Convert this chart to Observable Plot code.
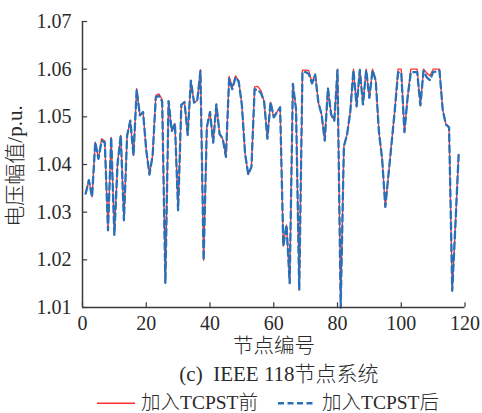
<!DOCTYPE html>
<html><head><meta charset="utf-8">
<script src="https://cdn.jsdelivr.net/npm/d3@7"></script>
<script src="https://cdn.jsdelivr.net/npm/@observablehq/plot@0.6"></script>
<style>
body{margin:0;background:#fff;}
#wrap{position:relative;width:482px;height:413px;font-family:"Liberation Serif","Noto Sans CJK SC",serif;color:#2a2a2a;font-weight:300;overflow:hidden;}
#chart{position:absolute;left:0;top:0;}
.lab{position:absolute;white-space:nowrap;font-size:20px;line-height:1;}
#ylab{left:15px;top:166px;font-size:21px;transform:translate(-50%,-50%) rotate(-90deg);}
#xlab{left:274px;top:346px;font-size:20.5px;transform:translate(-50%,-50%);}
#cap{left:279px;top:374px;font-size:21px;transform:translate(-50%,-50%);}
#leg{position:absolute;left:0;top:403px;width:482px;}
.item{position:absolute;top:0;transform:translateY(-50%);display:flex;align-items:center;font-size:19.5px;white-space:nowrap;line-height:1;}
.lat{font-family:"Liberation Serif",serif;}
</style></head>
<body>
<div id="wrap">
  <div id="chart"></div>
  <div class="lab" id="ylab">电压幅值/p.u.</div>
  <div class="lab" id="xlab">节点编号</div>
  <div class="lab" id="cap">(c)&nbsp; IEEE 118节点系统</div>
  <div id="leg"></div>
</div>
<script>
const buses = d3.range(1, 119);
const before = [
1.0339,1.0367,1.0332,1.0447,1.0412,1.0454,1.0449,1.0262,1.0457,1.0252,
1.0402,1.0461,1.0283,1.0461,1.0492,1.0419,1.0559,1.0503,1.0510,1.0430,
1.0379,1.0419,1.0545,1.0548,1.0536,1.0151,1.0533,1.0470,1.0486,1.0304,
1.0525,1.0531,1.0462,1.0576,1.0530,1.0534,1.0599,1.0199,1.0478,1.0510,
1.0446,1.0526,1.0464,1.0454,1.0416,1.0585,1.0562,1.0586,1.0576,1.0525,
1.0423,1.0379,1.0395,1.0563,1.0564,1.0555,1.0531,1.0454,1.0531,1.0499,
1.0510,1.0520,1.0229,1.0273,1.0151,1.0569,1.0515,1.0137,1.0598,1.0598,
1.0597,1.0572,1.0590,1.0530,1.0505,1.0450,1.0560,1.0505,1.0492,1.0600,
1.0100,1.0438,1.0463,1.0510,1.0600,1.0522,1.0600,1.0526,1.0600,1.0540,
1.0600,1.0576,1.0468,1.0412,1.0311,1.0379,1.0447,1.0516,1.0600,1.0600,
1.0468,1.0541,1.0600,1.0600,1.0600,1.0524,1.0600,1.0592,1.0586,1.0600,
1.0600,1.0600,1.0515,1.0484,1.0478,1.0135,1.0275,1.0420];
const after = [
1.0339,1.0367,1.0332,1.0447,1.0412,1.0450,1.0446,1.0262,1.0457,1.0252,
1.0402,1.0461,1.0283,1.0461,1.0492,1.0419,1.0557,1.0503,1.0510,1.0430,
1.0379,1.0419,1.0541,1.0544,1.0532,1.0151,1.0533,1.0470,1.0486,1.0304,
1.0525,1.0531,1.0462,1.0576,1.0530,1.0534,1.0596,1.0199,1.0478,1.0510,
1.0446,1.0526,1.0464,1.0454,1.0416,1.0580,1.0558,1.0583,1.0574,1.0525,
1.0423,1.0379,1.0395,1.0558,1.0556,1.0550,1.0531,1.0454,1.0531,1.0499,
1.0510,1.0520,1.0229,1.0273,1.0151,1.0569,1.0515,1.0137,1.0594,1.0594,
1.0590,1.0570,1.0588,1.0530,1.0505,1.0450,1.0560,1.0505,1.0492,1.0598,
1.0100,1.0438,1.0463,1.0510,1.0598,1.0522,1.0598,1.0526,1.0598,1.0540,
1.0598,1.0576,1.0468,1.0412,1.0311,1.0379,1.0447,1.0516,1.0593,1.0593,
1.0468,1.0541,1.0594,1.0594,1.0594,1.0524,1.0597,1.0583,1.0577,1.0594,
1.0595,1.0597,1.0515,1.0484,1.0478,1.0135,1.0275,1.0420];
const xTicks = [0, 20, 40, 60, 80, 100, 120];
const yTicks = [1.01, 1.02, 1.03, 1.04, 1.05, 1.06, 1.07];
const seriesPrefix = "加入";
const seriesDevice = "TCPST";
const seriesSuffix = ["前", "后"];
const colors = ["#ff3030", "#2870b8"];

const rows = buses.map((b, i) => ({bus: b, before: before[i], after: after[i]}));

const axisColor = "#3a3a3a";
const chart = Plot.plot({
  width: 482, height: 336,
  marginLeft: 82, marginRight: 17.5, marginTop: 21, marginBottom: 29,
  x: {domain: [0, 120]},
  y: {domain: [1.01, 1.07]},
  style: {fontFamily: "'Liberation Serif', serif", fontSize: "20px", color: "#2a2a2a", background: "transparent"},
  marks: [
    Plot.axisX(xTicks, {tickSize: 0, tickPadding: 8, label: null, fontSize: 20}),
    Plot.axisY(yTicks, {tickSize: 0, tickPadding: 11, label: null, fontSize: 20, tickFormat: d3.format(".2f")}),
    Plot.ruleY(yTicks, {x1: 0, x2: 1.6, stroke: axisColor, strokeWidth: 1.2}),
    Plot.ruleX(xTicks, {y1: 1.01, y2: 1.011, stroke: axisColor, strokeWidth: 1.2}),
    Plot.line(rows, {x: "bus", y: "before", stroke: colors[0], strokeWidth: 1.3}),
    Plot.line(rows, {x: "bus", y: "after", stroke: colors[1], strokeWidth: 2.3, strokeDasharray: "7,4"}),
    Plot.ruleX([0], {y1: 1.01, y2: 1.07, stroke: axisColor, strokeWidth: 1.5}),
    Plot.ruleY([1.01], {x1: 0, x2: 120, stroke: axisColor, strokeWidth: 1.5})
  ]
});
document.getElementById("chart").appendChild(chart);

const leg = document.getElementById("leg");
const legPos = [97, 278];
seriesSuffix.forEach((suf, i) => {
  const d = document.createElement("div");
  d.className = "item";
  d.style.left = legPos[i] + "px";
  const dash = i === 1 ? 'stroke-dasharray="6,3.5"' : '';
  const sw = i === 1 ? 2.3 : 1.3;
  d.innerHTML = `<svg width="38" height="10" style="margin-right:6px"><line x1="0" y1="5" x2="38" y2="5" stroke="${colors[i]}" stroke-width="${sw}" ${dash}/></svg><span>${seriesPrefix}<span class="lat">${seriesDevice}</span>${suf}</span>`;
  leg.appendChild(d);
});
</script>
</body></html>
